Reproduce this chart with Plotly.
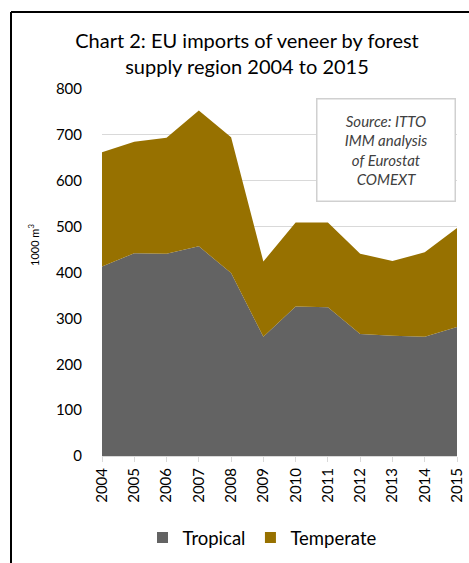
import plotly.graph_objects as go

years = [2004, 2005, 2006, 2007, 2008, 2009, 2010, 2011, 2012, 2013, 2014, 2015]
tropical = [413, 442, 441, 457, 399, 260, 326, 324, 266, 262, 260, 281]
temperate = [249, 243, 253, 296, 296, 164, 183, 185, 175, 163, 184, 216]
y_ticks = [0, 100, 200, 300, 400, 500, 600, 700, 800]
series_names = ["Tropical", "Temperate"]
series_colors = ["#636363", "#977100"]

W, H = 469, 563
ML, MR, MT, MB = 102, 12, 89, 107
PW, PH = W - ML - MR, H - MT - MB

def px(x):
    return (x - ML) / PW

def py(y):
    return (H - MB - y) / PH

FONT = "Lato, 'Open Sans', sans-serif"

fig = go.Figure()
for name, vals, col in zip(series_names, [tropical, temperate], series_colors):
    fig.add_trace(go.Scatter(x=years, y=vals, name=name, stackgroup="one",
                             mode="none", fillcolor=col, line=dict(width=0),
                             showlegend=False))
# legend entries with square markers
for name, col in zip(series_names, series_colors):
    fig.add_trace(go.Scatter(x=[None], y=[None], name=name, mode="markers",
                             marker=dict(symbol="square", size=11, color=col),
                             showlegend=True))

fig.update_layout(
    width=W, height=H,
    margin=dict(l=ML, r=MR, t=MT, b=MB, autoexpand=False),
    paper_bgcolor="white", plot_bgcolor="white",
    font=dict(family=FONT, color="#000000"),
    title=dict(text="Chart 2: EU imports of veneer by forest<br>supply region 2004 to 2015",
               x=px(247), xref="paper", xanchor="center", y=1 - 48 / H, yanchor="middle",
               font=dict(size=20, family=FONT, color="#000000")),
    showlegend=True,
    legend=dict(orientation="h", x=px(262), xanchor="center", y=py(538), yanchor="middle",
                font=dict(size=18.5, family=FONT, color="#000000"), itemwidth=30,
                traceorder="normal", bgcolor="rgba(0,0,0,0)"),
    xaxis=dict(range=[2004, 2015], tickmode="array", tickvals=years,
               ticktext=[str(y) for y in years], tickangle=-90,
               tickfont=dict(size=15, family=FONT, color="#000000"),
               showgrid=False, showline=True, linecolor="#d9d9d9", linewidth=1,
               ticks="outside", ticklen=5, tickcolor="#d9d9d9", zeroline=False, fixedrange=True),
    yaxis=dict(range=[0, 800], tickmode="array", tickvals=y_ticks,
               tickfont=dict(size=15, family=FONT, color="#000000"),
               showgrid=True, gridcolor="#d9d9d9", gridwidth=1, zeroline=False,
               showline=False, ticks="", ticklabelstandoff=19, fixedrange=True),
)

fig.add_annotation(text="1000 m<sup>3</sup>", xref="paper", yref="paper",
                   x=px(34), y=py(245), xanchor="center", yanchor="middle",
                   textangle=-90, showarrow=False,
                   font=dict(size=11, family=FONT, color="#000000"))

fig.add_annotation(text="<i>Source: ITTO<br>IMM analysis<br>of Eurostat<br>COMEXT</i>",
                   xref="paper", yref="paper", x=px(386), y=py(149.5),
                   xanchor="center", yanchor="middle", showarrow=False,
                   width=133, height=97, align="center",
                   bgcolor="white", bordercolor="#d0d0d0", borderwidth=1.5, borderpad=2,
                   font=dict(size=15, family=FONT, color="#404040"))

# outer frame lines (left and top)
fig.add_shape(type="line", xref="paper", yref="paper", x0=px(11), x1=px(11),
              y0=py(12), y1=py(H + 5), line=dict(color="#000000", width=2))
fig.add_shape(type="line", xref="paper", yref="paper", x0=px(11), x1=px(W + 5),
              y0=py(12), y1=py(12), line=dict(color="#000000", width=2))

fig.write_html("out.html", config={"displayModeBar": False},
               post_script="document.body.style.margin='0';document.body.style.overflow='hidden';")
